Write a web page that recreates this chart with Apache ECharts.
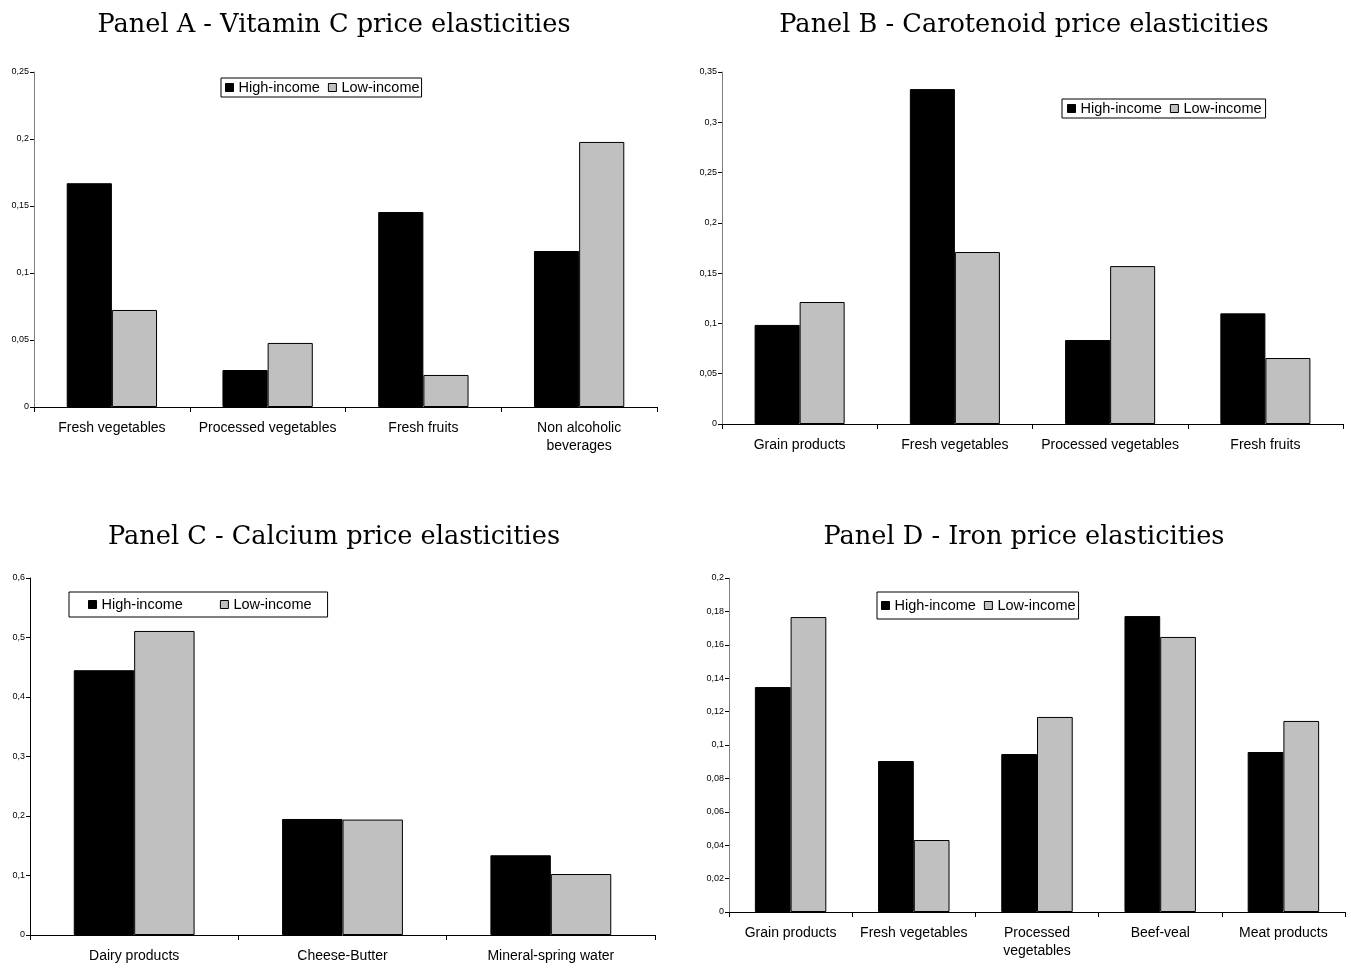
<!DOCTYPE html>
<html><head><meta charset="utf-8">
<script src="https://cdn.jsdelivr.net/npm/echarts@6/dist/echarts.min.js"></script>
<style>html,body{margin:0;padding:0;background:#fff}#c{width:1351px;height:968px}</style>
</head><body><div id="c"></div>
<script>
// Panel A - Vitamin C
const catsA = ['Fresh vegetables', 'Processed vegetables', 'Fresh fruits', 'Non alcoholic\nbeverages'];
const highA = [0.167, 0.0276, 0.1455, 0.1164];
const lowA  = [0.0724, 0.0478, 0.0239, 0.1978];
// Panel B - Carotenoid
const catsB = ['Grain products', 'Fresh vegetables', 'Processed vegetables', 'Fresh fruits'];
const highB = [0.0985, 0.333, 0.0835, 0.110];
const lowB  = [0.1213, 0.171, 0.157, 0.0656];
// Panel C - Calcium
const catsC = ['Dairy products', 'Cheese-Butter', 'Mineral-spring water'];
const highC = [0.445, 0.195, 0.134];
const lowC  = [0.511, 0.194, 0.1025];
// Panel D - Iron
const catsD = ['Grain products', 'Fresh vegetables', 'Processed\nvegetables', 'Beef-veal', 'Meat products'];
const highD = [0.1347, 0.0904, 0.0946, 0.1772, 0.0958];
const lowD  = [0.1766, 0.0431, 0.1168, 0.1647, 0.1144];

const titles = ['Panel A - Vitamin C price elasticities', 'Panel B - Carotenoid price elasticities',
                'Panel C - Calcium price elasticities', 'Panel D - Iron price elasticities'];
const yMax = [0.25, 0.35, 0.6, 0.2];
const yInt = [0.05, 0.05, 0.1, 0.02];

const panels = [
  {cats: catsA, high: highA, low: lowA, grid: {left: 34, top: 72, width: 623, height: 335}, yColor: '#808080',
   title: {x: 329, y: 7}, legend: {left: 221, top: 78, gap: 8, pad: [2, 2, 2, 4]}},
  {cats: catsB, high: highB, low: lowB, grid: {left: 722, top: 72, width: 621, height: 352}, yColor: '#808080',
   title: {x: 1019, y: 7}, legend: {left: 1062, top: 99, gap: 8, pad: [2, 4, 2, 5]}},
  {cats: catsC, high: highC, low: lowC, grid: {left: 30, top: 578, width: 625, height: 357}, yColor: '#000',
   title: {x: 329, y: 519}, legend: {left: 69, top: 592, gap: 37, pad: [5, 16, 5, 19]}},
  {cats: catsD, high: highD, low: lowD, grid: {left: 729, top: 578, width: 616, height: 334}, yColor: '#808080',
   title: {x: 1019, y: 519}, legend: {left: 877, top: 592, gap: 8, pad: [6, 3, 6, 4]}}
];

const fmt = v => String(+(+v).toFixed(3)).replace('.', ',');

const option = {
  animation: false,
  backgroundColor: '#fff',
  title: [], legend: [], grid: [], xAxis: [], yAxis: [], series: []
};

panels.forEach((p, i) => {
  option.title.push({
    text: titles[i], left: p.title.x, top: p.title.y, textAlign: 'center',
    textStyle: {fontFamily: 'DejaVu Serif', fontWeight: 'normal', fontSize: 25.6, color: '#000'}
  });
  option.grid.push(Object.assign({containLabel: false}, p.grid));
  option.xAxis.push({
    type: 'category', gridIndex: i, data: p.cats,
    axisLine: {lineStyle: {color: '#000', width: 1}},
    axisTick: {show: true, length: 5, lineStyle: {color: '#000'}},
    axisLabel: {color: '#000', fontFamily: 'Liberation Sans', fontSize: 14, margin: 12, interval: 0, lineHeight: 18}
  });
  option.yAxis.push({
    type: 'value', gridIndex: i, min: 0, max: yMax[i], interval: yInt[i],
    splitLine: {show: false},
    axisLine: {show: true, lineStyle: {color: p.yColor, width: 1}},
    axisTick: {show: true, length: 4, lineStyle: {color: '#000'}},
    axisLabel: {color: '#000', fontFamily: 'Liberation Sans', fontSize: 9, margin: 5, formatter: fmt}
  });
  const nh = 'High-income', nl = 'Low-income';
  option.series.push({
    type: 'bar', name: nh, xAxisIndex: i, yAxisIndex: i, data: p.high,
    barGap: '0%', barCategoryGap: '42%',
    itemStyle: {color: '#000', borderColor: '#000', borderWidth: 1}
  });
  option.series.push({
    type: 'bar', name: nl, xAxisIndex: i, yAxisIndex: i, data: p.low,
    barGap: '0%', barCategoryGap: '42%',
    itemStyle: {color: '#c0c0c0', borderColor: '#000', borderWidth: 1}
  });
  option.legend.push({
    left: p.legend.left, top: p.legend.top,
    data: [nh, nl].map(n => ({name: n})),
    seriesIndex: [2 * i, 2 * i + 1],
    icon: 'rect', itemWidth: 8, itemHeight: 8, itemGap: p.legend.gap,
    padding: p.legend.pad,
    borderColor: '#000', borderWidth: 1, backgroundColor: '#fff',
    textStyle: {fontFamily: 'Liberation Sans', fontSize: 14.5, color: '#000'},
    selectedMode: false,
    itemStyle: {borderColor: '#000', borderWidth: 1}
  });
});

const chart = echarts.init(document.getElementById('c'), null, {renderer: 'canvas'});
chart.setOption(option);
</script>
</body></html>
